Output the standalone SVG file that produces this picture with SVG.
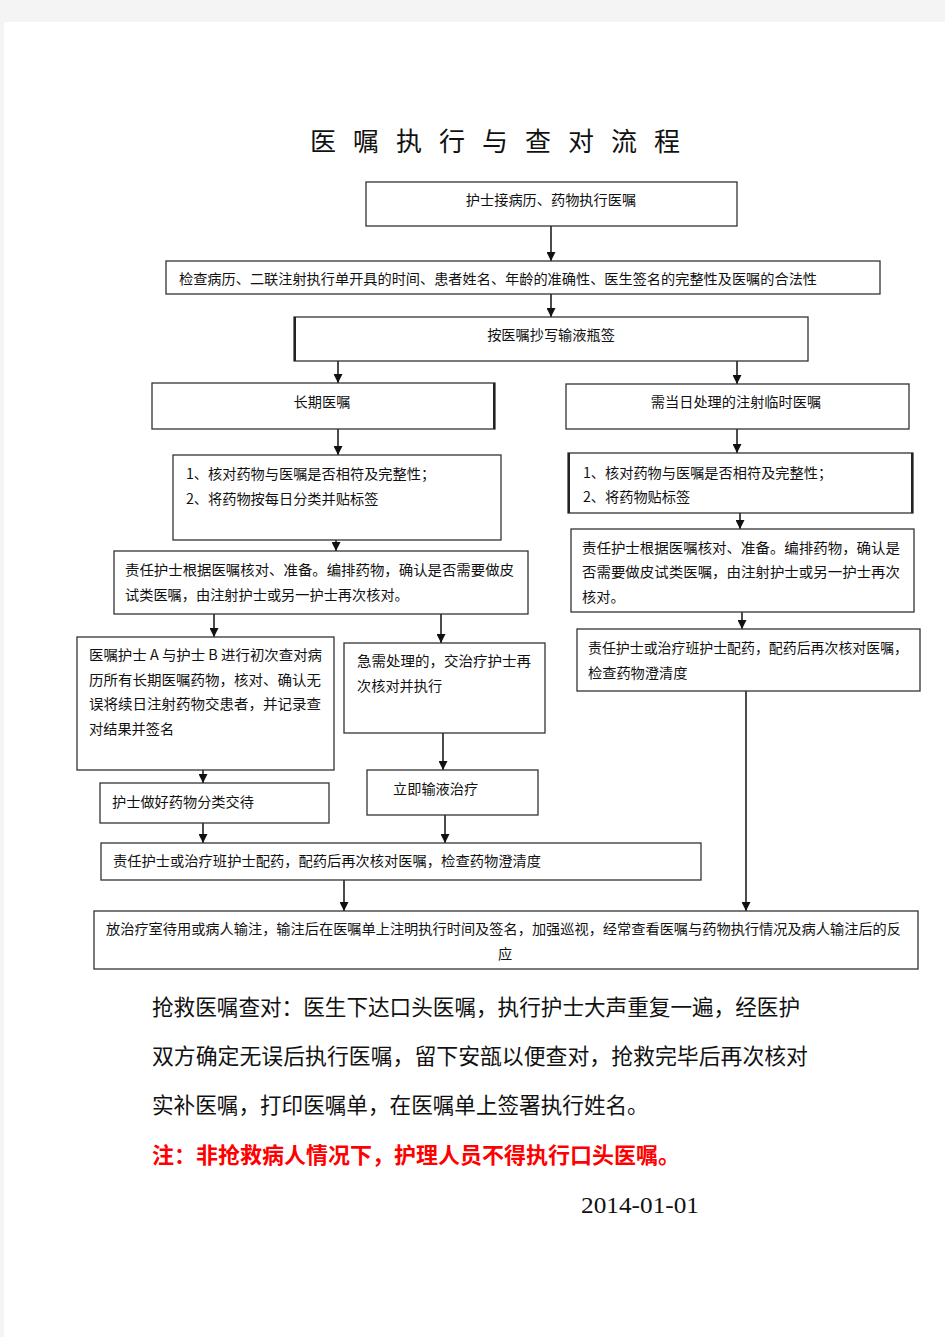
<svg xmlns="http://www.w3.org/2000/svg" width="945" height="1337" viewBox="0 0 945 1337">
<defs>
<style>
.bx{fill:#fff;stroke:#333;stroke-width:1.3}
.edge{stroke:#222;stroke-width:2}
.t{font-family:"Noto Sans CJK SC","Liberation Sans",sans-serif;font-size:14.2px;fill:#111;dominant-baseline:central}
.c{text-anchor:middle}
.p{font-family:"Noto Sans CJK SC","Liberation Serif",serif;font-size:21.6px;fill:#111;dominant-baseline:central}
.ln{stroke:#111;stroke-width:1.5;fill:none;marker-end:url(#ah)}
</style>
<marker id="ah" viewBox="0 0 10 10" refX="10" refY="5" markerWidth="10" markerHeight="9" orient="auto" markerUnits="userSpaceOnUse">
<path d="M0,0 L10,5 L0,10 z" fill="#111"/>
</marker>
</defs>
<rect x="0" y="0" width="945" height="1337" fill="#f4f4f4"/>
<rect x="4" y="22" width="941" height="1315" fill="#fff"/>

<text x="310" y="139" font-family="'Noto Sans CJK SC',serif" font-size="26" letter-spacing="17" fill="#111" dominant-baseline="central">医嘱执行与查对流程</text>

<g id="connectors">
<line class="ln" x1="551" y1="226" x2="551" y2="261"/>
<line class="ln" x1="551" y1="294" x2="551" y2="317"/>
<line class="ln" x1="338" y1="361" x2="338" y2="383"/>
<line class="ln" x1="737" y1="361" x2="737" y2="384"/>
<line class="ln" x1="338" y1="429" x2="338" y2="455"/>
<line class="ln" x1="737" y1="429" x2="737" y2="453"/>
<line class="ln" x1="336" y1="540" x2="336" y2="551"/>
<line class="ln" x1="740" y1="513" x2="740" y2="529"/>
<line class="ln" x1="742" y1="612" x2="742" y2="629"/>
<line class="ln" x1="214" y1="614" x2="214" y2="637"/>
<line class="ln" x1="441" y1="614" x2="441" y2="643"/>
<line class="ln" x1="203" y1="770" x2="203" y2="783"/>
<line class="ln" x1="443" y1="733" x2="443" y2="770"/>
<line class="ln" x1="203" y1="823" x2="203" y2="843"/>
<line class="ln" x1="445" y1="815" x2="445" y2="843"/>
<line class="ln" x1="344" y1="880" x2="344" y2="911"/>
<line class="ln" x1="746" y1="691" x2="746" y2="911"/>
</g>

<g id="n1">
<rect class="bx" x="366" y="182" width="371" height="44"/>
<text class="t c" x="551" y="199">护士接病历、药物执行医嘱</text>
</g>
<g id="n2">
<rect class="bx" x="166" y="261" width="714" height="33"/>
<text class="t" x="179" y="278" textLength="638" lengthAdjust="spacingAndGlyphs">检查病历、二联注射执行单开具的时间、患者姓名、年龄的准确性、医生签名的完整性及医嘱的合法性</text>
</g>
<g id="n3">
<rect class="bx" x="294" y="317" width="514" height="44"/>
<line class="edge" x1="295" y1="317" x2="295" y2="361"/>
<text class="t c" x="551" y="334">按医嘱抄写输液瓶签</text>
</g>
<g id="n4">
<rect class="bx" x="152" y="383" width="343" height="46"/>
<line class="edge" x1="494" y1="383" x2="494" y2="429"/>
<text class="t c" x="322" y="401">长期医嘱</text>
</g>
<g id="n5">
<rect class="bx" x="566" y="384" width="343" height="45"/>
<text class="t c" x="736" y="401">需当日处理的注射临时医嘱</text>
</g>
<g id="n6">
<rect class="bx" x="173" y="455" width="328" height="85"/>
<text class="t" x="186" y="473">1、核对药物与医嘱是否相符及完整性；</text>
<text class="t" x="186" y="498">2、将药物按每日分类并贴标签</text>
</g>
<g id="n7">
<rect class="bx" x="568" y="453" width="345" height="60"/>
<line class="edge" x1="569" y1="453" x2="569" y2="513"/>
<line class="edge" x1="912" y1="453" x2="912" y2="513"/>
<text class="t" x="583" y="472">1、核对药物与医嘱是否相符及完整性；</text>
<text class="t" x="583" y="496">2、将药物贴标签</text>
</g>
<g id="n8">
<rect class="bx" x="114" y="551" width="414" height="63"/>
<text class="t" x="125" y="569" textLength="389" lengthAdjust="spacingAndGlyphs">责任护士根据医嘱核对、准备。编排药物，确认是否需要做皮</text>
<text class="t" x="125" y="594">试类医嘱，由注射护士或另一护士再次核对。</text>
</g>
<g id="n9">
<rect class="bx" x="571" y="529" width="343" height="83"/>
<text class="t" x="582" y="547" textLength="318" lengthAdjust="spacingAndGlyphs">责任护士根据医嘱核对、准备。编排药物，确认是</text>
<text class="t" x="582" y="571" textLength="318" lengthAdjust="spacingAndGlyphs">否需要做皮试类医嘱，由注射护士或另一护士再次</text>
<text class="t" x="582" y="596">核对。</text>
</g>
<g id="n10">
<rect class="bx" x="577" y="629" width="343" height="62"/>
<text class="t" x="588" y="647" textLength="320" lengthAdjust="spacingAndGlyphs">责任护士或治疗班护士配药，配药后再次核对医嘱，</text>
<text class="t" x="588" y="672">检查药物澄清度</text>
</g>
<g id="n11">
<rect class="bx" x="77" y="637" width="257" height="133"/>
<text class="t" x="89" y="654" textLength="233" lengthAdjust="spacingAndGlyphs">医嘱护士 A 与护士 B 进行初次查对病</text>
<text class="t" x="89" y="679" textLength="232" lengthAdjust="spacingAndGlyphs">历所有长期医嘱药物，核对、确认无</text>
<text class="t" x="89" y="703" textLength="232" lengthAdjust="spacingAndGlyphs">误将续日注射药物交患者，并记录查</text>
<text class="t" x="89" y="728">对结果并签名</text>
</g>
<g id="n12">
<rect class="bx" x="344" y="643" width="201" height="90"/>
<text class="t" x="357" y="660" textLength="174" lengthAdjust="spacingAndGlyphs">急需处理的，交治疗护士再</text>
<text class="t" x="357" y="685">次核对并执行</text>
</g>
<g id="n13">
<rect class="bx" x="100" y="783" width="229" height="40"/>
<text class="t" x="112" y="801">护士做好药物分类交待</text>
</g>
<g id="n14">
<rect class="bx" x="367" y="770" width="171" height="45"/>
<text class="t" x="393" y="788">立即输液治疗</text>
</g>
<g id="n15">
<rect class="bx" x="101" y="843" width="600" height="37"/>
<text class="t" x="113" y="860" textLength="428" lengthAdjust="spacingAndGlyphs">责任护士或治疗班护士配药，配药后再次核对医嘱，检查药物澄清度</text>
</g>
<g id="n16">
<rect class="bx" x="94" y="911" width="824" height="58"/>
<text class="t" x="106" y="928" textLength="795" lengthAdjust="spacingAndGlyphs">放治疗室待用或病人输注，输注后在医嘱单上注明执行时间及签名，加强巡视，经常查看医嘱与药物执行情况及病人输注后的反</text>
<text class="t c" x="505" y="953">应</text>
</g>

<g id="notes">
<text class="p" x="152" y="1005" textLength="648" lengthAdjust="spacingAndGlyphs">抢救医嘱查对：医生下达口头医嘱，执行护士大声重复一遍，经医护</text>
<text class="p" x="152" y="1054" textLength="656" lengthAdjust="spacingAndGlyphs">双方确定无误后执行医嘱，留下安瓿以便查对，抢救完毕后再次核对</text>
<text class="p" x="152" y="1103">实补医嘱，打印医嘱单，在医嘱单上签署执行姓名。</text>
<text class="p" x="152" y="1153" font-weight="bold" style="fill:#ff0000" textLength="528" lengthAdjust="spacingAndGlyphs">注：非抢救病人情况下，护理人员不得执行口头医嘱。</text>
<text x="581" y="1205" font-family="'Liberation Serif',serif" font-size="23" fill="#111" dominant-baseline="central" textLength="118" lengthAdjust="spacingAndGlyphs">2014-01-01</text>
</g>
</svg>
